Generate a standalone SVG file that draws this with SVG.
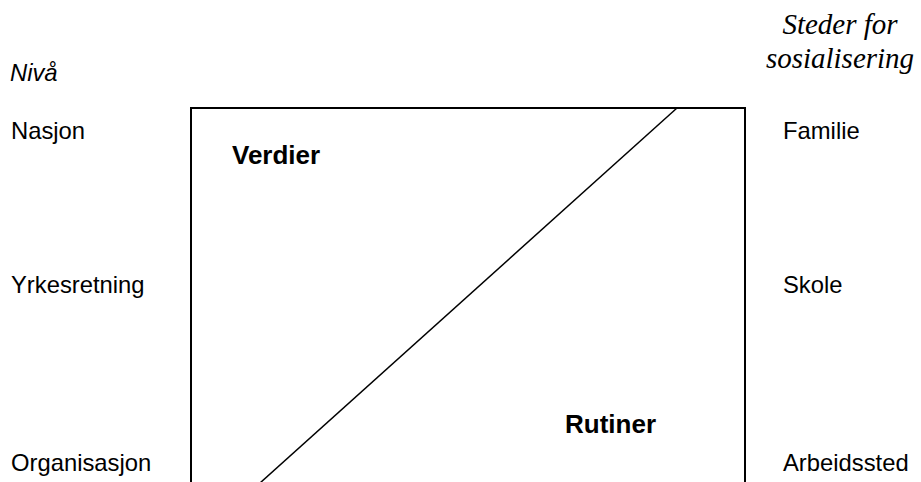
<svg xmlns="http://www.w3.org/2000/svg" width="921" height="482" viewBox="0 0 921 482">
<style>
.lbl{font-family:"Liberation Sans",Arial,sans-serif;font-size:23.8px;fill:#000}
.it{font-style:italic}
.bold{font-family:"Liberation Sans",Arial,sans-serif;font-size:26px;font-weight:bold;fill:#000}
.serif{font-family:"Liberation Serif","Times New Roman",serif;font-style:italic;font-size:29px;fill:#000}
</style>
<rect width="921" height="482" fill="#fff"/>
<g id="header-left"><text class="lbl it" x="10" y="81">Nivå</text></g>
<g id="header-right">
<text class="serif" x="840" y="34" text-anchor="middle">Steder for</text>
<text class="serif" x="840" y="68" text-anchor="middle">sosialisering</text>
</g>
<g id="levels">
<text class="lbl" x="11" y="139">Nasjon</text>
<text class="lbl" x="11" y="293">Yrkesretning</text>
<text class="lbl" x="11" y="471">Organisasjon</text>
</g>
<g id="places">
<text class="lbl" x="783" y="139">Familie</text>
<text class="lbl" x="783" y="293">Skole</text>
<text class="lbl" x="783" y="471">Arbeidssted</text>
</g>
<g id="box">
<path d="M191,490 V108 H745 V490" fill="none" stroke="#000" stroke-width="2"/>
<text class="bold" x="232" y="164">Verdier</text>
<text class="bold" x="565" y="433">Rutiner</text>
</g>
<g id="connectors">
<line x1="677" y1="108" x2="260" y2="483" stroke="#000" stroke-width="1.5"/>
</g>
</svg>
